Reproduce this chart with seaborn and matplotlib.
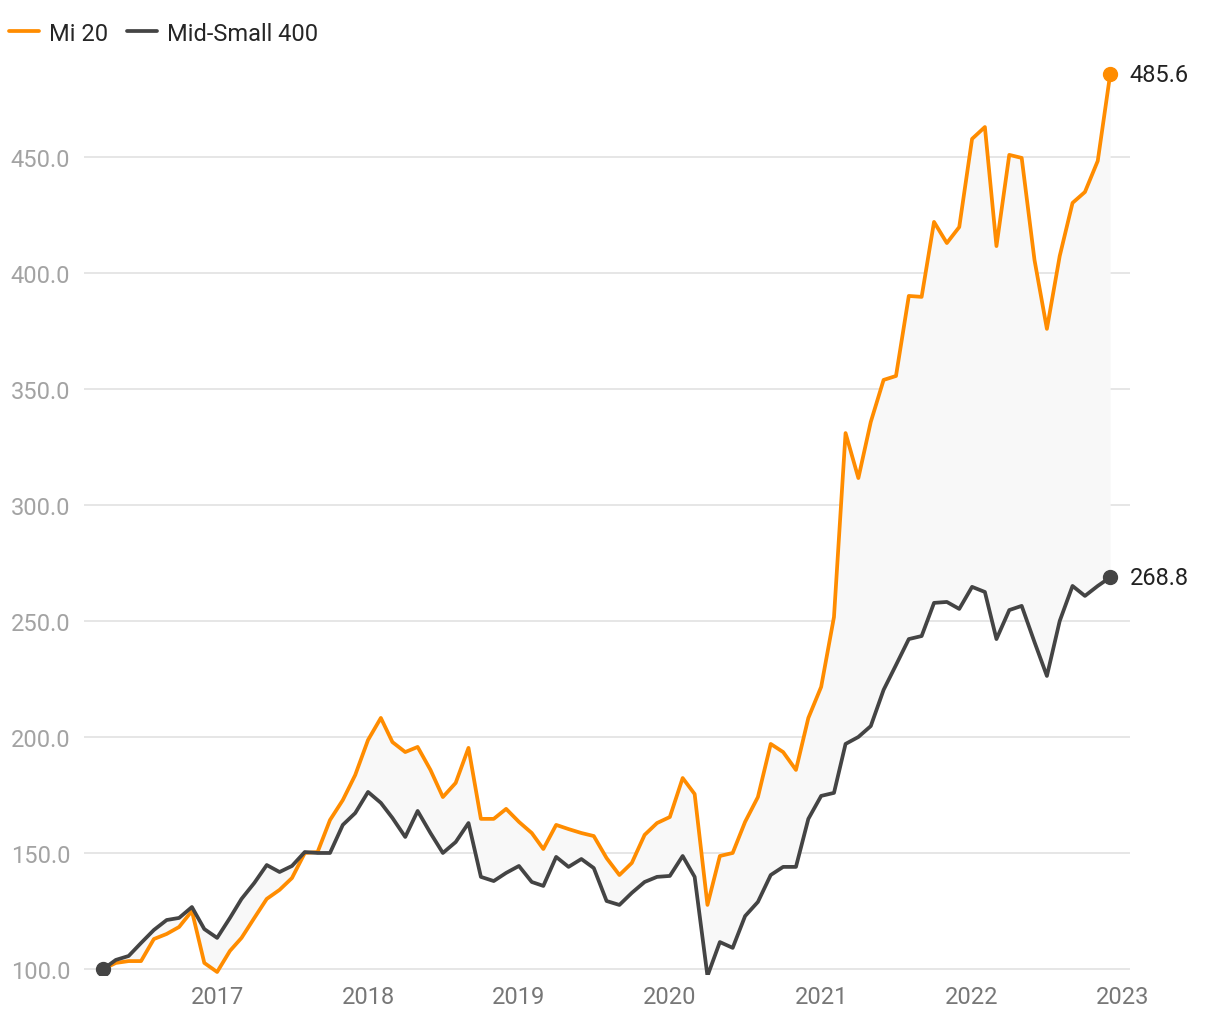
import numpy as np
import pandas as pd
import matplotlib
matplotlib.use("Agg")
import matplotlib.pyplot as plt
import matplotlib.dates as mdates
from matplotlib.lines import Line2D
import seaborn as sns

# monthly index values, Apr 2016 .. Dec 2022
dates = pd.date_range("2016-04-01", periods=81, freq="MS")

mi20 = [100.0, 102.6, 103.4, 103.4, 112.9, 115.1, 118.1, 125.0, 102.6, 98.7,
        107.8, 113.4, 122.0, 130.2, 134.1, 139.2, 150.0, 150.4, 164.2, 172.8,
        183.6, 198.7, 208.2, 197.8, 193.5, 195.7, 185.8, 174.1, 180.2, 195.3,
        164.7, 164.7, 169.0, 163.4, 158.6, 151.7, 162.1, 160.3, 158.6, 157.3,
        147.8, 140.5, 145.7, 157.8, 162.9, 165.5, 182.3, 175.4, 127.6, 148.7,
        150.0, 163.4, 174.1, 197.0, 193.5, 185.8, 208.2, 221.6, 251.7, 331.0,
        311.6, 335.8, 353.9, 355.6, 390.1, 389.7, 422.0, 412.9, 419.8, 457.8,
        462.9, 411.6, 450.9, 449.6, 405.6, 375.9, 407.3, 430.2, 434.9, 448.3,
        485.6]

midsmall400 = [100.0, 103.9, 105.6, 111.2, 116.8, 121.1, 122.0, 126.7, 117.2, 113.4,
               122.0, 130.2, 137.1, 144.8, 141.8, 144.4, 150.4, 150.0, 150.0, 162.1,
               167.2, 176.3, 171.6, 165.1, 156.9, 168.1, 158.6, 150.0, 154.7, 162.9,
               139.7, 137.9, 141.4, 144.4, 137.5, 135.8, 148.3, 144.0, 147.4, 143.5,
               129.3, 127.6, 132.8, 137.5, 139.7, 140.1, 148.7, 139.7, 97.0, 111.6,
               109.1, 122.8, 128.9, 140.5, 144.0, 144.0, 164.7, 174.6, 175.9, 197.0,
               200.0, 204.7, 220.3, 231.0, 242.2, 243.5, 257.8, 258.2, 255.2, 264.7,
               262.5, 242.2, 254.7, 256.5, 240.9, 226.3, 250.0, 265.1, 260.8, 265.1,
               268.8]

series_names = ["Mi 20", "Mid-Small 400"]
y_ticks = [100, 150, 200, 250, 300, 350, 400, 450]
x_years = [2017, 2018, 2019, 2020, 2021, 2022, 2023]

orange = "#FF8C00"
dark = "#444444"
fs = 17

sns.set_style("white")
plt.rcParams["font.family"] = ["Roboto", "DejaVu Sans"]

df = pd.DataFrame({"date": dates, series_names[0]: mi20, series_names[1]: midsmall400})
long_df = df.melt(id_vars="date", var_name="series", value_name="value")

fig = plt.figure(figsize=(12.2, 10.2), dpi=100)
ax = fig.add_axes([84 / 1220, 1 - 976 / 1020, (1130 - 84) / 1220, (976 - 61) / 1020])

# shaded gap between the two series
ax.fill_between(df["date"], df[series_names[1]], df[series_names[0]],
                color="#f8f8f8", lw=0, zorder=1)

sns.lineplot(data=long_df, x="date", y="value", hue="series",
             palette={series_names[0]: orange, series_names[1]: dark},
             linewidth=2.7, legend=False, ax=ax, zorder=3)

# end / start markers
ax.plot(df["date"].iloc[-1], mi20[-1], "o", color=orange, ms=10, zorder=4)
ax.plot(df["date"].iloc[-1], midsmall400[-1], "o", color=dark, ms=10, zorder=4)
ax.plot(df["date"].iloc[0], midsmall400[0], "o", color=dark, ms=10, zorder=4)

for val in (mi20[-1], midsmall400[-1]):
    ax.annotate(f"{val:.1f}", xy=(df["date"].iloc[-1], val), xytext=(14, 0),
                textcoords="offset points", va="center", ha="left",
                fontsize=fs, color="#222222")

ax.set_xlim(pd.Timestamp("2016-02-14"), pd.Timestamp("2023-01-18"))
ax.set_ylim(97.4, 491.8)

ax.set_yticks(y_ticks)
ax.set_yticklabels([f"{v:.1f}" for v in y_ticks])
ax.set_xticks([pd.Timestamp(f"{y}-01-01") for y in x_years])
ax.xaxis.set_major_formatter(mdates.DateFormatter("%Y"))

ax.yaxis.grid(True, color="#e4e4e4", lw=1.3, zorder=0)
ax.xaxis.grid(False)
ax.set_axisbelow(True)
for s in ax.spines.values():
    s.set_visible(False)
ax.tick_params(axis="y", length=0, pad=10, labelsize=fs, labelcolor="#a3a3a3")
ax.tick_params(axis="x", length=0, pad=7, labelsize=fs, labelcolor="#777777")
ax.set_xlabel("")
ax.set_ylabel("")

handles = [Line2D([0], [0], color=orange, lw=2.7),
           Line2D([0], [0], color=dark, lw=2.7)]
fig.legend(handles, series_names, loc="upper left", bbox_to_anchor=(0.0, 0.987),
           ncol=2, frameon=False, fontsize=fs, handlelength=1.27,
           handletextpad=0.42, columnspacing=0.8, borderaxespad=0.0)

fig.savefig("out.png", dpi=100)
